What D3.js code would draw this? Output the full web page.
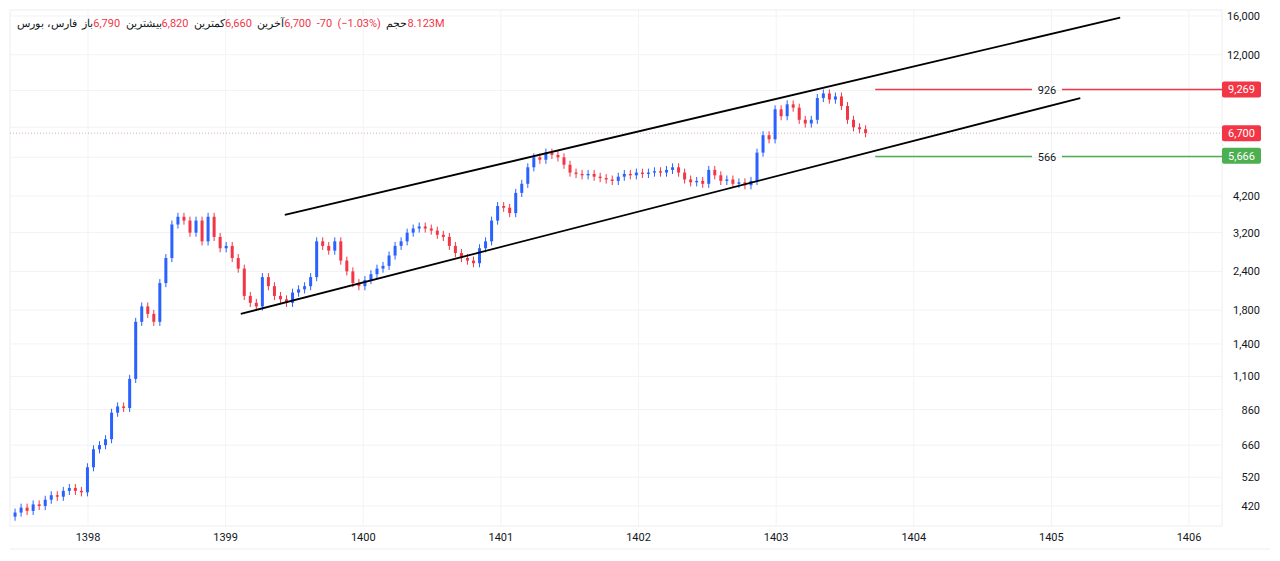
<!DOCTYPE html>
<html><head><meta charset="utf-8">
<script src="https://cdn.jsdelivr.net/npm/d3@7"></script>
<style>
  html, body { margin: 0; background: #fff; }
  svg { font-family: Roboto, "Noto Sans", sans-serif; }
</style></head>
<body><svg id="chart" width="1280" height="561"></svg>
<script>
// ---- data ----
const closes = [400,415,405,425,420, 440,455,450,470,480,470, 465, 560,640, 660,690, 840,880,870, 1080,
  1650,1850, 1750,1650, 2200,2650, 3400,3600,3500, 3200,3500,3000, 3600, 3100,2850, 2900,2650,2450,
  2000,1900,1850, 2300, 2150,2000, 1950,1900, 2050,2100,2150, 2300, 3000,2900, 2800,3000,
  2600,2400,2200, 2150,2250, 2350,2450,2500, 2700,2900,3000, 3200,3300,3350,3300, 3250,3150,3100,
  2900,2750,2650,2600, 2550,2850,3000, 3500,3900,3850, 3700,4300, 4600,5200,
  5600,5500,5800,5700,5600, 5300,5000,4950, 4900,4950,4850,4800,4750,4700,4850,
  4950,4900,5000,4950,5000,5050,5000,5100, 5200,5000,4750, 4650,4700,4600, 5100,4900,
  4700,4750,4600,4650,4550,4700, 5800,6600,6400, 8000,7600, 8300,8100,7400,
  7200,7400,8700, 9000,8600,8800, 8200,7400,7000,6900,6700];
const firstDate = 1397.47, lastDate = 1403.65;
const yTicks = [420,520,660,860,1100,1400,1800,2400,3200,4200,5600,7000,9200,12000,16000];
const yearTicks = [1398,1399,1400,1401,1402,1403,1404,1405,1406];
const channelUpper = [[1399.43, 3650], [1405.5, 15800]];
const channelLower = [[1399.11, 1750], [1405.21, 8700]];
const levels = [
  {price: 9269, label: '926', color: '#f23645', from: 1403.72},
  {price: 5666, label: '566', color: '#4caf50', from: 1403.72}
];
const lastPrice = 6700;

// ---- scales ----
const svg = d3.select('#chart');
const x = d3.scaleLinear().domain([1398, 1406]).range([88, 1189]);
const y = d3.scaleLog().domain([16000, 420]).range([16, 506]);
const pLeft = 10, pRight = 1222, pTop = 10, pBottom = 526;

// grid
svg.append('g').selectAll('line').data(yTicks).enter().append('line')
  .attr('x1', pLeft).attr('x2', pRight).attr('y1', d => y(d)).attr('y2', d => y(d))
  .attr('stroke', '#f2f3f5');
svg.append('g').selectAll('line').data(yearTicks).enter().append('line')
  .attr('x1', d => x(d)).attr('x2', d => x(d)).attr('y1', pTop).attr('y2', pBottom)
  .attr('stroke', '#f2f3f5');
svg.append('rect').attr('x', pLeft).attr('y', pTop).attr('width', pRight - pLeft).attr('height', pBottom - pTop)
  .attr('fill', 'none').attr('stroke', '#eceef1');
svg.append('line').attr('x1', pLeft).attr('x2', 1270).attr('y1', 549).attr('y2', 549).attr('stroke', '#eceef1');

// axes text (ticks hidden behind the price boxes are skipped)
const boxes = [{p: 9269, c: '#f23645'}, {p: lastPrice, c: '#f23645'}, {p: 5666, c: '#4caf50'}];
svg.append('g').selectAll('text')
  .data(yTicks.filter(t => boxes.every(b => Math.abs(y(b.p) - y(t)) > 9)))
  .enter().append('text')
  .attr('x', 1260).attr('y', d => y(d) + 4).attr('text-anchor', 'end')
  .attr('font-size', 11).attr('fill', '#131722').text(d => d3.format(',')(d));
svg.append('g').selectAll('text').data(yearTicks).enter().append('text')
  .attr('x', d => x(d)).attr('y', 541).attr('text-anchor', 'middle')
  .attr('font-size', 11).attr('fill', '#131722').text(d => d);

// last price dotted line
svg.append('line').attr('x1', pLeft).attr('x2', pRight).attr('y1', y(lastPrice)).attr('y2', y(lastPrice))
  .attr('stroke', '#c8a0a4').attr('stroke-dasharray', '1,2').attr('stroke-width', 0.8);

// candles
const step = (lastDate - firstDate) / (closes.length - 1);
const candles = closes.map((c, i) => {
  const o = i === 0 ? c * 0.97 : closes[i - 1];
  return {date: firstDate + i * step, o, c, h: Math.max(o, c) * 1.03, l: Math.min(o, c) * 0.97};
});
const cg = svg.append('g');
cg.selectAll('line').data(candles).enter().append('line')
  .attr('x1', d => x(d.date)).attr('x2', d => x(d.date))
  .attr('y1', d => y(d.h)).attr('y2', d => y(d.l))
  .attr('stroke', d => d.c >= d.o ? '#2962ff' : '#f23645');
cg.selectAll('rect').data(candles).enter().append('rect')
  .attr('x', d => x(d.date) - 1.5).attr('width', 3)
  .attr('y', d => y(Math.max(d.o, d.c)))
  .attr('height', d => Math.max(1, y(Math.min(d.o, d.c)) - y(Math.max(d.o, d.c))))
  .attr('fill', d => d.c >= d.o ? '#2962ff' : '#f23645');

// channel lines
[channelUpper, channelLower].forEach(ln => {
  svg.append('line')
    .attr('x1', x(ln[0][0])).attr('y1', y(ln[0][1]))
    .attr('x2', x(ln[1][0])).attr('y2', y(ln[1][1]))
    .attr('stroke', '#000').attr('stroke-width', 1.8);
});

// horizontal levels
levels.forEach(l => {
  const yy = Math.round(y(l.price)) + 0.5;
  svg.append('line').attr('x1', x(l.from)).attr('x2', 1032).attr('y1', yy).attr('y2', yy).attr('stroke', l.color).attr('stroke-width', 1.3);
  svg.append('line').attr('x1', 1062).attr('x2', pRight).attr('y1', yy).attr('y2', yy).attr('stroke', l.color).attr('stroke-width', 1.3);
  svg.append('text').attr('x', 1047).attr('y', yy + 4).attr('text-anchor', 'middle')
    .attr('font-size', 11).attr('fill', '#131722').text(l.label);
});

// price boxes on axis
boxes.forEach(b => {
  const yy = y(b.p);
  svg.append('rect').attr('x', 1222).attr('y', yy - 8).attr('width', 39).attr('height', 16).attr('rx', 2).attr('fill', b.c);
  svg.append('text').attr('x', 1241.5).attr('y', yy + 4).attr('text-anchor', 'middle')
    .attr('font-size', 11).attr('fill', '#fff').text(d3.format(',')(b.p));
});

// header legend (visual order, left to right)
const red = '#f23645', dark = '#131722';
const header = svg.append('text').attr('x', 17).attr('y', 27)
  .attr('font-size', 11).attr('direction', 'ltr');
[['فارس، بورس', dark], ['  باز', dark], ['6,790', red], ['  بیشترین', dark], ['6,820', red], ['  کمترین', dark], ['6,660', red],
 ['  آخرین', dark], ['6,700  -70  (−1.03%)  ', red], ['حجم', dark], ['8.123M', red]]
  .forEach(([t, c]) => header.append('tspan').attr('fill', c).style('white-space', 'pre').style('unicode-bidi', 'isolate').text(t));
</script></body></html>
